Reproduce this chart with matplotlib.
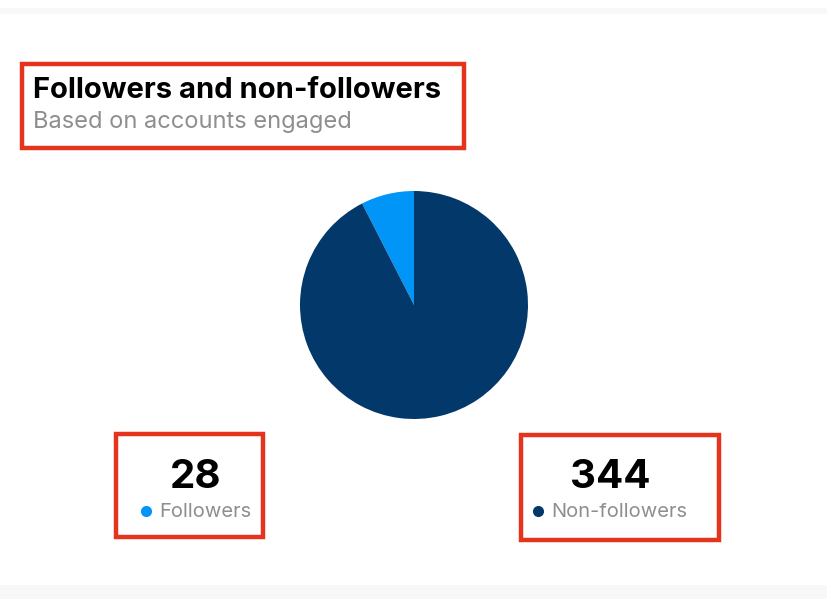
import matplotlib
matplotlib.use("Agg")
import matplotlib.pyplot as plt
from matplotlib.patches import Rectangle

# data
labels = ["Followers", "Non-followers"]
counts = [28, 344]
colors = ["#0095F6", "#03386A"]

title = "Followers and non-followers"
subtitle = "Based on accounts engaged"

W, H = 828, 599
RED = "#E5341D"
GRAY = "#8E8E8E"

plt.rcParams["font.family"] = ["Inter", "DejaVu Sans"]

fig = plt.figure(figsize=(W / 100, H / 100), dpi=100)
fig.patch.set_facecolor("white")

# overlay axes in pixel coords (y down)
bg = fig.add_axes([0, 0, 1, 1])
bg.set_xlim(0, W)
bg.set_ylim(H, 0)
bg.axis("off")

# faint bands at top and bottom
bg.add_patch(Rectangle((0, 8), W, 6, color="#F8F8F8", lw=0))
bg.add_patch(Rectangle((0, 585), W, H - 585, color="#F8F8F8", lw=0))

# pie
cx, cy, r = 414, 305, 114
pie_ax = fig.add_axes([(cx - r) / W, 1 - (cy + r) / H, 2 * r / W, 2 * r / H])
pie_ax.pie(counts, colors=colors, startangle=90, counterclock=True,
           wedgeprops={"linewidth": 0})
pie_ax.set_xlim(-1, 1)
pie_ax.set_ylim(-1, 1)
pie_ax.set_aspect("auto")

# title block
bg.text(33, 90, title, fontsize=21, fontweight="bold", color="black",
        ha="left", va="center")
bg.text(33, 122, subtitle, fontsize=17, color=GRAY, ha="left", va="center")
bg.add_patch(Rectangle((22, 64), 442, 84, fill=False, ec=RED, lw=3.2))

# stat blocks
stats = [
    (196, 146, (116, 434, 147, 103)),
    (610, 538, (521, 435, 198, 105)),
]
for (tx, dotx, box), label, count, col in zip(stats, labels, counts, colors):
    bg.text(tx, 477, str(count), fontsize=29, fontweight="bold", color="black",
            ha="center", va="center")
    bg.plot(dotx, 511, "o", ms=8, color=col, mec="none")
    bg.text(dotx + 13, 512, label, fontsize=14.5, color=GRAY,
            ha="left", va="center")
    bg.add_patch(Rectangle(box[:2], box[2], box[3], fill=False, ec=RED, lw=3.2))

fig.savefig("out.png", dpi=100)
